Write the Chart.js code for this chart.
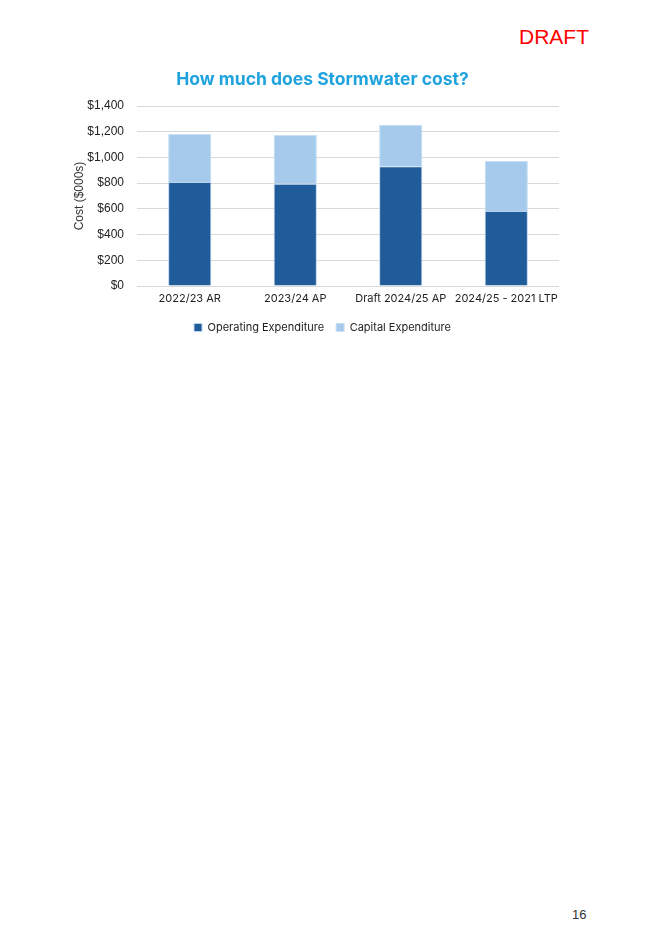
<!DOCTYPE html>
<html>
<head>
<meta charset="utf-8">
<script src="https://cdn.jsdelivr.net/npm/chart.js@4"></script>
<style>
  body { margin: 0; background: #fff; width: 645px; height: 934px; position: relative; overflow: hidden; }
  #draft { position: absolute; left: 519px; top: 25px; font: 21px "Liberation Sans", Arial, sans-serif; color: #ff0000; }
  #page { position: absolute; left: 572px; top: 907px; font: 13px "Liberation Sans", Arial, sans-serif; color: #333; }
  #wrap { position: absolute; left: 60px; top: 62px; width: 529px; height: 281px; }
</style>
</head>
<body>
<div id="draft">DRAFT</div>
<div id="page">16</div>
<div id="wrap"><canvas id="costChart"></canvas></div>
<script>
// categorias y valores ($000s)
var categories = ["2022/23 AR", "2023/24 AP", "Draft 2024/25 AP", "2024/25 - 2021 LTP"];
var operating = [808, 795, 931, 584];
var capital = [375, 380, 323, 388];
var yTicks = [0, 200, 400, 600, 800, 1000, 1200, 1400];

var ctx = document.getElementById('costChart').getContext('2d');
var costChart = new Chart(ctx, {
    type: 'bar',
    data: {
        labels: categories,
        datasets: [{
            label: "Operating Expenditure",
            data: operating,
            backgroundColor: "#1F5C99",
            borderColor: "#B9D3EE",
            borderWidth: 1,
            categoryPercentage: 1,
            barPercentage: 0.41
        }, {
            label: "Capital Expenditure",
            data: capital,
            backgroundColor: "#A6CAEC",
            borderColor: "#C9DFF4",
            borderWidth: 1,
            categoryPercentage: 1,
            barPercentage: 0.41
        }]
    },
    options: {
        responsive: true,
        maintainAspectRatio: false,
        animation: false,
        layout: { padding: { left: 26, right: 30, top: 0, bottom: 0 } },
        plugins: {
            title: {
                display: true,
                text: "How much does Stormwater cost?",
                color: "#1EA3DE",
                font: { family: "Inter, 'Noto Sans', sans-serif", size: 17.5, weight: 'bold' },
                padding: { top: 7, bottom: 16 }
            },
            legend: {
                position: 'bottom',
                labels: {
                    boxWidth: 8, boxHeight: 8,
                    color: "#222",
                    font: { family: "Inter, 'Noto Sans', sans-serif", size: 11 },
                    padding: 12
                }
            },
            tooltip: { enabled: false }
        },
        scales: {
            x: {
                stacked: true,
                grid: { display: false, drawTicks: false },
                border: { display: false },
                afterFit: function (axis) { axis.height = 24; },
                ticks: {
                    color: "#222",
                    padding: 6,
                    maxRotation: 0,
                    autoSkip: false,
                    font: { family: "Inter, 'Noto Sans', sans-serif", size: 11 }
                }
            },
            y: {
                stacked: true,
                min: 0,
                max: 1400,
                afterBuildTicks: function (axis) {
                    axis.ticks = yTicks.map(function (v) { return { value: v }; });
                },
                afterFit: function (axis) { axis.width = 51; },
                grid: { color: "#D9D9D9", drawTicks: false },
                border: { display: false },
                ticks: {
                    color: "#222",
                    padding: 13,
                    font: { family: "'Liberation Sans', Arial, sans-serif", size: 12 },
                    callback: function (v) { return '$' + v.toLocaleString('en-US'); }
                },
                title: {
                    display: true,
                    text: "Cost ($000s)",
                    color: "#333",
                    font: { family: "'Liberation Sans', Arial, sans-serif", size: 12 },
                    padding: { top: -14, bottom: 0 }
                }
            }
        }
    }
});
</script>
</body>
</html>
